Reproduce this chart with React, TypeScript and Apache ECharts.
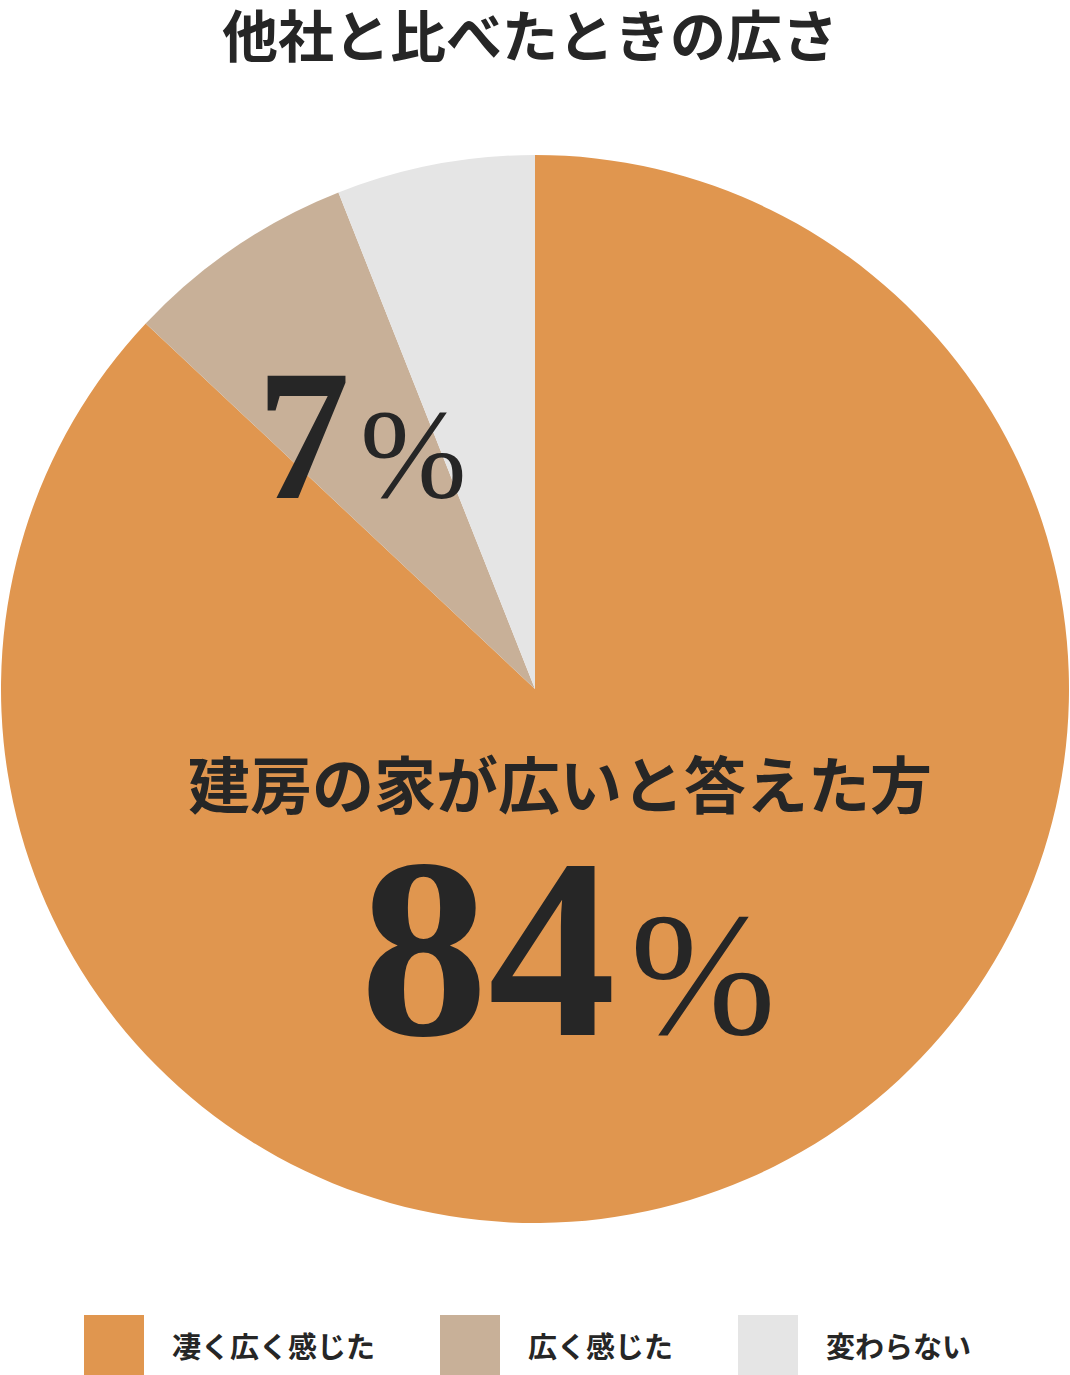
import React, { useEffect, useRef } from 'react';
import * as echarts from 'echarts';

const chartTitle = '他社と比べたときの広さ';
const categories = ['凄く広く感じた', '広く感じた', '変わらない'];
const shares = [87, 7, 6];
const sliceColors = ['#E0964F', '#C8B098', '#E5E5E5'];
const headlineText = '建房の家が広いと答えた方';
const headlineShare = 84;

const SANS = '"Noto Sans CJK JP", "Noto Sans", sans-serif';
const SERIF = '"Liberation Serif", "DejaVu Serif", serif';
const INK = '#262626';

const App: React.FC = () => {
  const chartRef = useRef<HTMLDivElement>(null);

  useEffect(() => {
    document.body.style.margin = '0';
    if (!chartRef.current) return;
    const chart = echarts.init(chartRef.current, undefined, { renderer: 'svg' });

    const legendLefts = [84, 440, 738];

    const option = {
      animation: false,
      color: sliceColors,
      legend: categories.map((name, i) => ({
        data: [name],
        left: legendLefts[i],
        top: 1315,
        padding: 0,
        itemWidth: 60,
        itemHeight: 60,
        icon: 'rect',
        selectedMode: false,
        textStyle: {
          fontSize: 29,
          fontWeight: 'bold',
          fontFamily: SANS,
          color: INK,
          padding: [0, 0, 0, 23],
        },
      })),
      series: [
        {
          type: 'pie',
          center: [535, 689],
          radius: 534,
          startAngle: 90,
          clockwise: true,
          silent: true,
          label: { show: false },
          labelLine: { show: false },
          emphasis: { disabled: true },
          itemStyle: { borderWidth: 0 },
          data: categories.map((name, i) => ({ name, value: shares[i] })),
        },
      ],
      graphic: [
        {
          type: 'text',
          x: 530,
          y: 4,
          z: 100,
          style: {
            text: chartTitle,
            font: `bold 56px ${SANS}`,
            fill: INK,
            textAlign: 'center',
            textVerticalAlign: 'top',
          },
        },
        {
          type: 'text',
          x: 560,
          y: 782,
          z: 100,
          style: {
            text: headlineText,
            font: `bold 62px ${SANS}`,
            fill: INK,
            textAlign: 'center',
            textVerticalAlign: 'middle',
          },
        },
        {
          type: 'text',
          x: 360,
          y: 1076,
          z: 100,
          style: {
            text: `{n|${headlineShare}}{p|%}`,
            textAlign: 'left',
            textVerticalAlign: 'bottom',
            rich: {
              n: { fontFamily: SERIF, fontWeight: 'bold', fontSize: 256, fill: INK, verticalAlign: 'bottom' },
              p: {
                fontFamily: SERIF, fontWeight: 'normal', fontSize: 175, fill: INK,
                verticalAlign: 'bottom', padding: [0, 0, 14, 14],
              },
            },
          },
        },
        {
          type: 'text',
          x: 257,
          y: 528,
          z: 100,
          style: {
            text: `{n|${shares[1]}}{p|%}`,
            textAlign: 'left',
            textVerticalAlign: 'bottom',
            rich: {
              n: { fontFamily: SERIF, fontWeight: 'bold', fontSize: 186, fill: INK, verticalAlign: 'bottom' },
              p: {
                fontFamily: SERIF, fontWeight: 'normal', fontSize: 128, fill: INK,
                verticalAlign: 'bottom', padding: [0, 0, 10, 10],
              },
            },
          },
        },
      ],
    };

    chart.setOption(option);
    return () => {
      chart.dispose();
    };
  }, []);

  return <div ref={chartRef} style={{ width: '1070px', height: '1375px', background: '#fff' }} />;
};

export default App;
